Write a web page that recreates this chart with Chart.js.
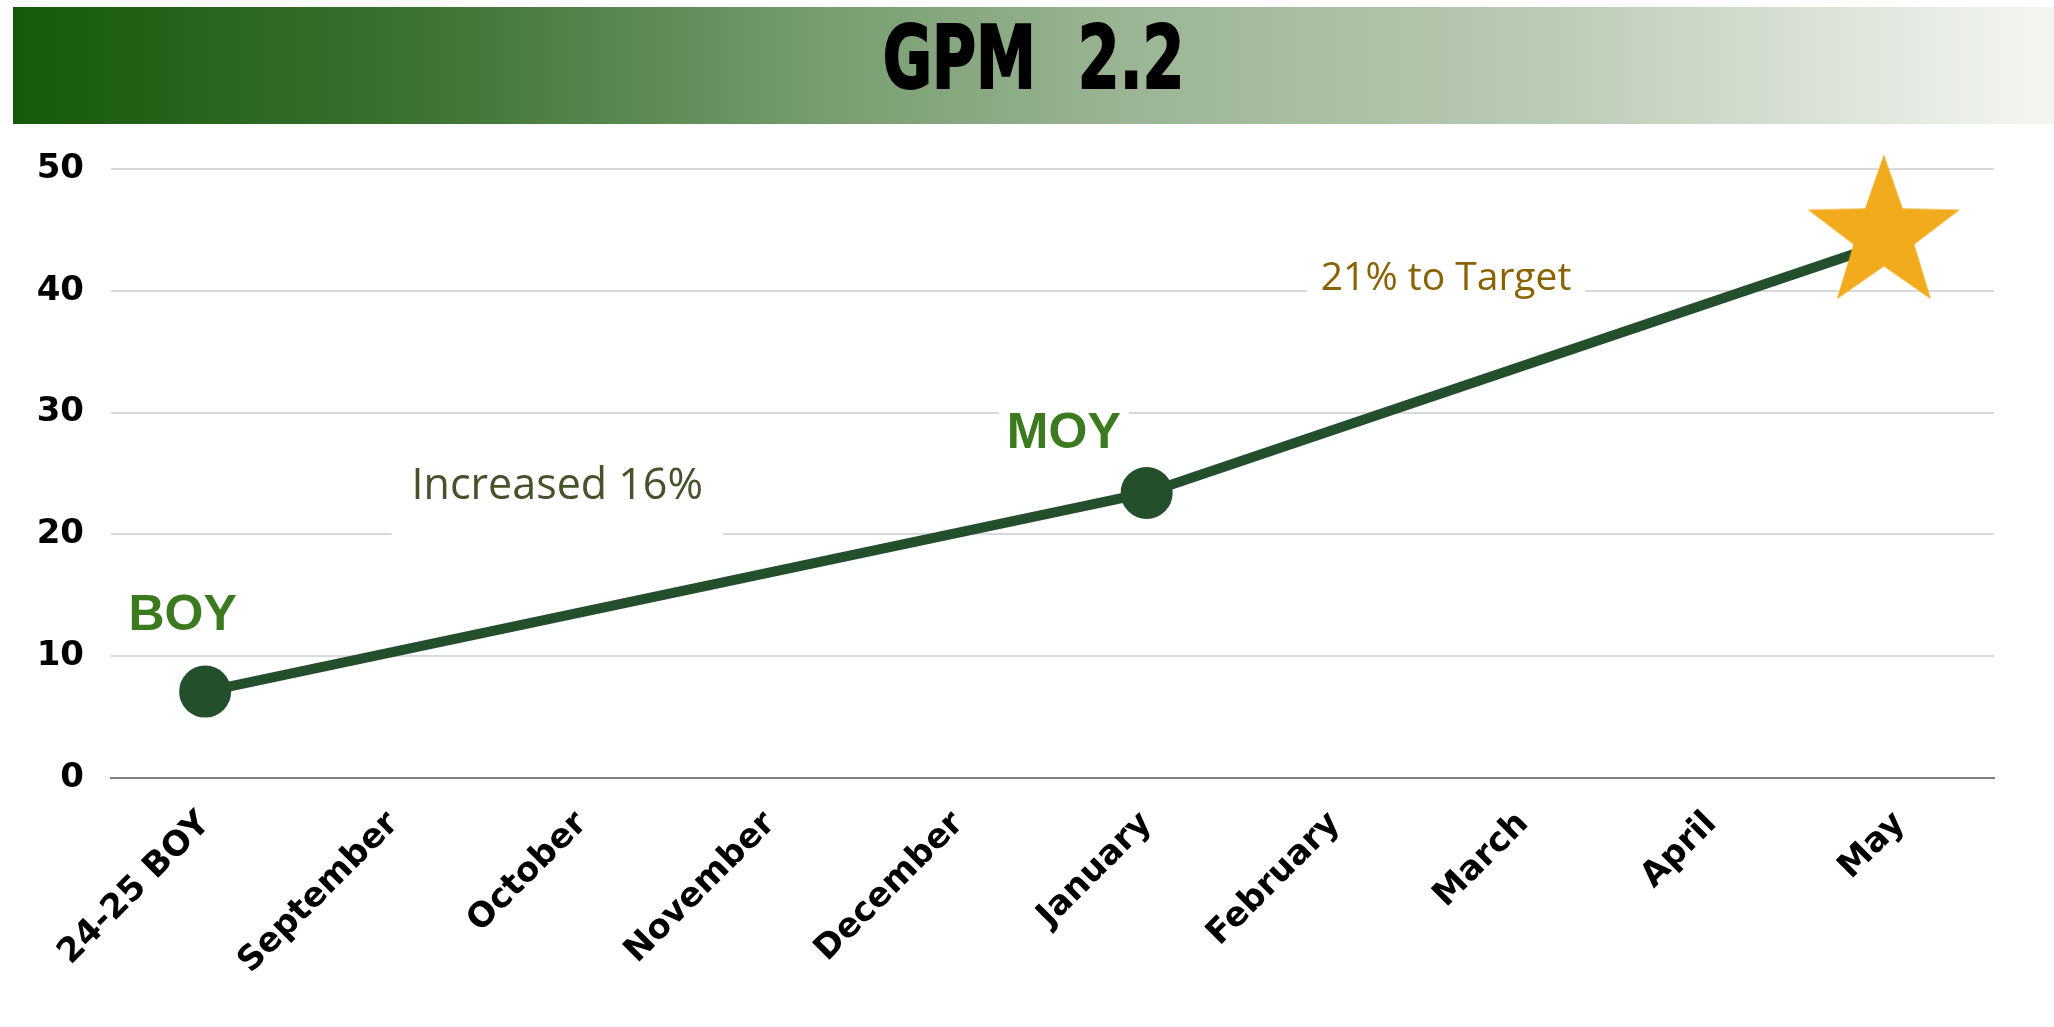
<!DOCTYPE html>
<html>
<head>
<meta charset="utf-8">
<script src="https://cdn.jsdelivr.net/npm/chart.js@4/dist/chart.umd.min.js"></script>
<style>
  html, body { margin: 0; padding: 0; background: #fff; }
  #wrap { position: relative; width: 2054px; height: 1027px; }
  canvas { position: absolute; left: 0; top: 0; }
  #header {
    position: absolute; left: 13px; top: 7px; width: 2041px; height: 117px;
    background: linear-gradient(to right, #155a0a 0%, #3c7332 20%, #789d70 40%, #9cb596 55%, #bacbb4 75%, #f5f6f3 100%);
    display: flex; align-items: center; justify-content: center;
  }
  #header h1 {
    margin: 0 0 16px 0; color: #000; white-space: pre;
    font: bold 88px 'DejaVu Sans Condensed', 'DejaVu Sans', sans-serif;
    -webkit-text-stroke: 2px #000;
    transform: scaleX(0.76);
  }
</style>
</head>
<body>
<div id="wrap">
  <canvas id="chart" width="2054" height="1027"></canvas>
  <div id="header"><h1>GPM  2.2</h1></div>
</div>
<script>
// data
const months = ['24-25 BOY', 'September', 'October', 'November', 'December', 'January', 'February', 'March', 'April', 'May'];
const gpmScores = [7.1, null, null, null, null, 23.4, null, null, null, 44.3];
const yMin = 0, yMax = 50, yStep = 10;

// notes on the chart (anchored in data units)
const noteTexts = ['BOY', 'MOY', 'Increased 16%', '21% to Target'];
const noteX = [-0.12, 4.56, 1.87, 6.59];
const noteY = [13.3, 28.2, 23.9, 41];

// font, colour, white box padding [x, top, bottom]
const noteStyle = [
  { font: 'bold 50px "Liberation Sans", Arial, sans-serif', color: '#3b7a1e', pad: null },
  { font: 'bold 50px "Liberation Sans", Arial, sans-serif', color: '#3b7a1e', pad: [8, 30, 30] },
  { font: '43px "Open Sans", sans-serif', color: '#45522a', pad: [20, 40, 58] },
  { font: '39px "Open Sans", sans-serif', color: '#8a6300', pad: [14, 30, 22] }
];

const lineColor = '#234f2d';
const starColor = '#f1ab1c';

// filled star used as the point of the last value
function makeStar(r, dx, dy) {
  const c = document.createElement('canvas');
  c.width = c.height = Math.ceil(r * 2 + 60);
  const g = c.getContext('2d');
  const cx = c.width / 2 + dx, cy = c.height / 2 + dy;
  g.beginPath();
  for (let i = 0; i < 10; i++) {
    const rr = i % 2 === 0 ? r : r * 0.4;
    const a = -Math.PI / 2 + i * Math.PI / 5;
    g.lineTo(cx + rr * Math.cos(a), cy + rr * Math.sin(a));
  }
  g.closePath();
  g.fillStyle = starColor;
  g.fill();
  return c;
}
const star = makeStar(80, -16, -4);

// white boxes + text notes
const notesPlugin = {
  id: 'notes',
  beforeDatasetsDraw(chart) {
    const { ctx, scales: { x, y } } = chart;
    ctx.save();
    ctx.textAlign = 'center';
    ctx.textBaseline = 'middle';
    noteTexts.forEach((t, i) => {
      const px = x.getPixelForValue(noteX[i]);
      const py = y.getPixelForValue(noteY[i]);
      const st = noteStyle[i];
      ctx.font = st.font;
      const w = ctx.measureText(t).width;
      if (st.pad) {
        const [pxd, pt, pb] = st.pad;
        ctx.fillStyle = '#fff';
        ctx.fillRect(px - w / 2 - pxd, py - pt, w + pxd * 2, pt + pb);
      }
      ctx.fillStyle = st.color;
      ctx.fillText(t, px, py);
    });
    ctx.restore();
  }
};

new Chart(document.getElementById('chart'), {
  type: 'line',
  data: {
    labels: months,
    datasets: [{
      data: gpmScores,
      borderColor: lineColor,
      backgroundColor: lineColor,
      borderWidth: 10,
      spanGaps: true,
      tension: 0,
      clip: false,
      pointRadius: 21,
      pointHoverRadius: 21,
      pointStyle: (c) => c.dataIndex === gpmScores.length - 1 ? star : 'circle'
    }]
  },
  options: {
    responsive: false,
    animation: false,
    events: [],
    layout: { padding: { left: 0, right: 60, top: 169, bottom: 0 } },
    plugins: { legend: { display: false }, tooltip: { enabled: false } },
    scales: {
      x: {
        offset: true,
        grid: { display: false, drawTicks: false },
        border: { display: true, color: '#7f7f7f', width: 2 },
        ticks: {
          color: '#000',
          font: { family: '"DejaVu Sans", sans-serif', weight: 'bold', size: 34 },
          minRotation: 45, maxRotation: 45, padding: 26
        },
        afterFit: (s) => { s.height = 249; }
      },
      y: {
        min: yMin, max: yMax,
        grid: { color: '#d9d9d9', lineWidth: 2, drawTicks: false },
        border: { display: false },
        ticks: {
          stepSize: yStep, color: '#000', padding: 27,
          font: { family: '"DejaVu Sans", sans-serif', weight: 'bold', size: 34 }
        },
        afterFit: (s) => { s.width = 111; }
      }
    }
  },
  plugins: [notesPlugin]
});
</script>
</body>
</html>
